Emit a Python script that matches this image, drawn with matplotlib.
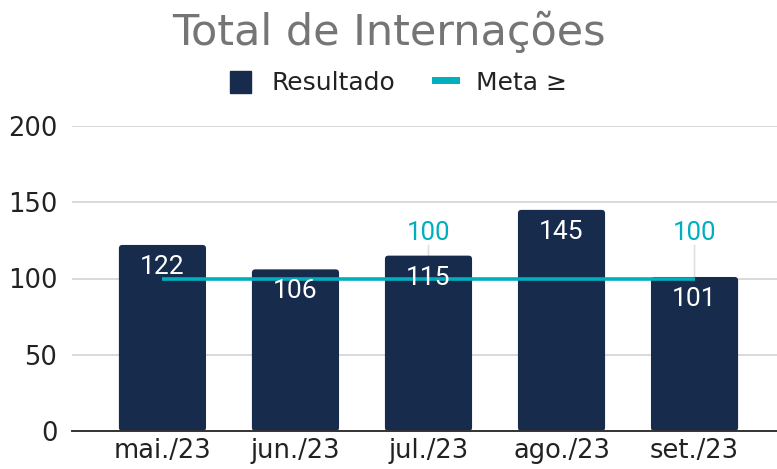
import matplotlib
matplotlib.use("Agg")
import matplotlib.pyplot as plt
from matplotlib.patches import FancyBboxPatch
from matplotlib.lines import Line2D
from matplotlib.patches import Patch

categories = ["mai./23", "jun./23", "jul./23", "ago./23", "set./23"]
resultado = [122, 106, 115, 145, 101]
meta = [100, 100, 100, 100, 100]
meta_label_show = [False, False, True, False, True]
yticks = [0, 50, 100, 150, 200]

NAVY = "#172B4C"
TEAL = "#00AFBE"
GRID = "#D9D9D9"

fig = plt.figure(figsize=(7.77, 4.69), dpi=100)
ax = fig.add_axes([72/777, 1 - 431/469, 705/777, (431-126)/469])

ax.set_ylim(0, 200)
ax.set_xlim(-0.68, 4.62)

x = list(range(len(categories)))
bars = ax.bar(x, resultado, width=0.655, color=NAVY, zorder=2)
# replace with slightly rounded boxes
px_x = 705 / (4.62 + 0.68)
px_y = 305 / 200
for b in bars:
    fb = FancyBboxPatch((b.get_x(), b.get_y()), b.get_width(), b.get_height(),
                        boxstyle="round,pad=0,rounding_size=%f" % (3.5 / px_x),
                        mutation_aspect=px_x / px_y,
                        facecolor=NAVY, edgecolor="none", zorder=2)
    ax.add_patch(fb)
    b.set_visible(False)

ax.plot(x, meta, color=TEAL, linewidth=2.6, zorder=3, solid_capstyle="butt")

for xi, v in zip(x, resultado):
    ax.annotate(f"{v}", (xi, v), xytext=(0, -22), textcoords="offset pixels",
                ha="center", va="center", color="white", fontsize=19,
                family=["Roboto", "DejaVu Sans"], zorder=4)

for xi, m, show in zip(x, meta, meta_label_show):
    if show:
        ax.annotate(f"{m}", (xi, m), xytext=(0, 46), textcoords="offset pixels",
                    ha="center", va="center", color=TEAL, fontsize=18.5,
                    family=["Roboto", "DejaVu Sans"], zorder=4)
        ax.annotate("", (xi, m), xytext=(xi, m + 33/px_y), textcoords="data",
                    arrowprops=dict(arrowstyle="-", color="#E0E0E0", lw=1.2,
                                    shrinkA=0, shrinkB=0), zorder=1)

ax.set_yticks(yticks)
ax.set_xticks(x)
ax.set_xticklabels(categories)
ax.yaxis.grid(True, color=GRID, linewidth=1.4, zorder=0)
ax.set_axisbelow(True)
for s in ["left", "right", "top"]:
    ax.spines[s].set_visible(False)
ax.spines["bottom"].set_color("#333333")
ax.spines["bottom"].set_linewidth(1.4)
ax.spines["bottom"].set_zorder(5)
ax.tick_params(axis="both", length=0, labelsize=18.5, colors="#222222")
ax.tick_params(axis="y", pad=10.5)
ax.tick_params(axis="x", pad=5)
for lab in ax.get_yticklabels() + ax.get_xticklabels():
    lab.set_family(["DejaVu Sans"])

fig.text(0.5, 1 - 33/469, "Total de Internações", ha="center", va="center",
         fontsize=31, color="#757575")

handles = [Patch(facecolor=NAVY, edgecolor=NAVY),
           Line2D([0], [0], color=TEAL, linewidth=5)]
fig.legend(handles, ["Resultado", "Meta ≥"], loc="center",
           bbox_to_anchor=(0.5 + 10/777, 1 - 83/469), ncol=2, frameon=False,
           fontsize=18, handlelength=0.85, handleheight=1.0, columnspacing=1.6,
           handletextpad=0.8, labelcolor="#222222")

fig.savefig("out.png", dpi=100)
